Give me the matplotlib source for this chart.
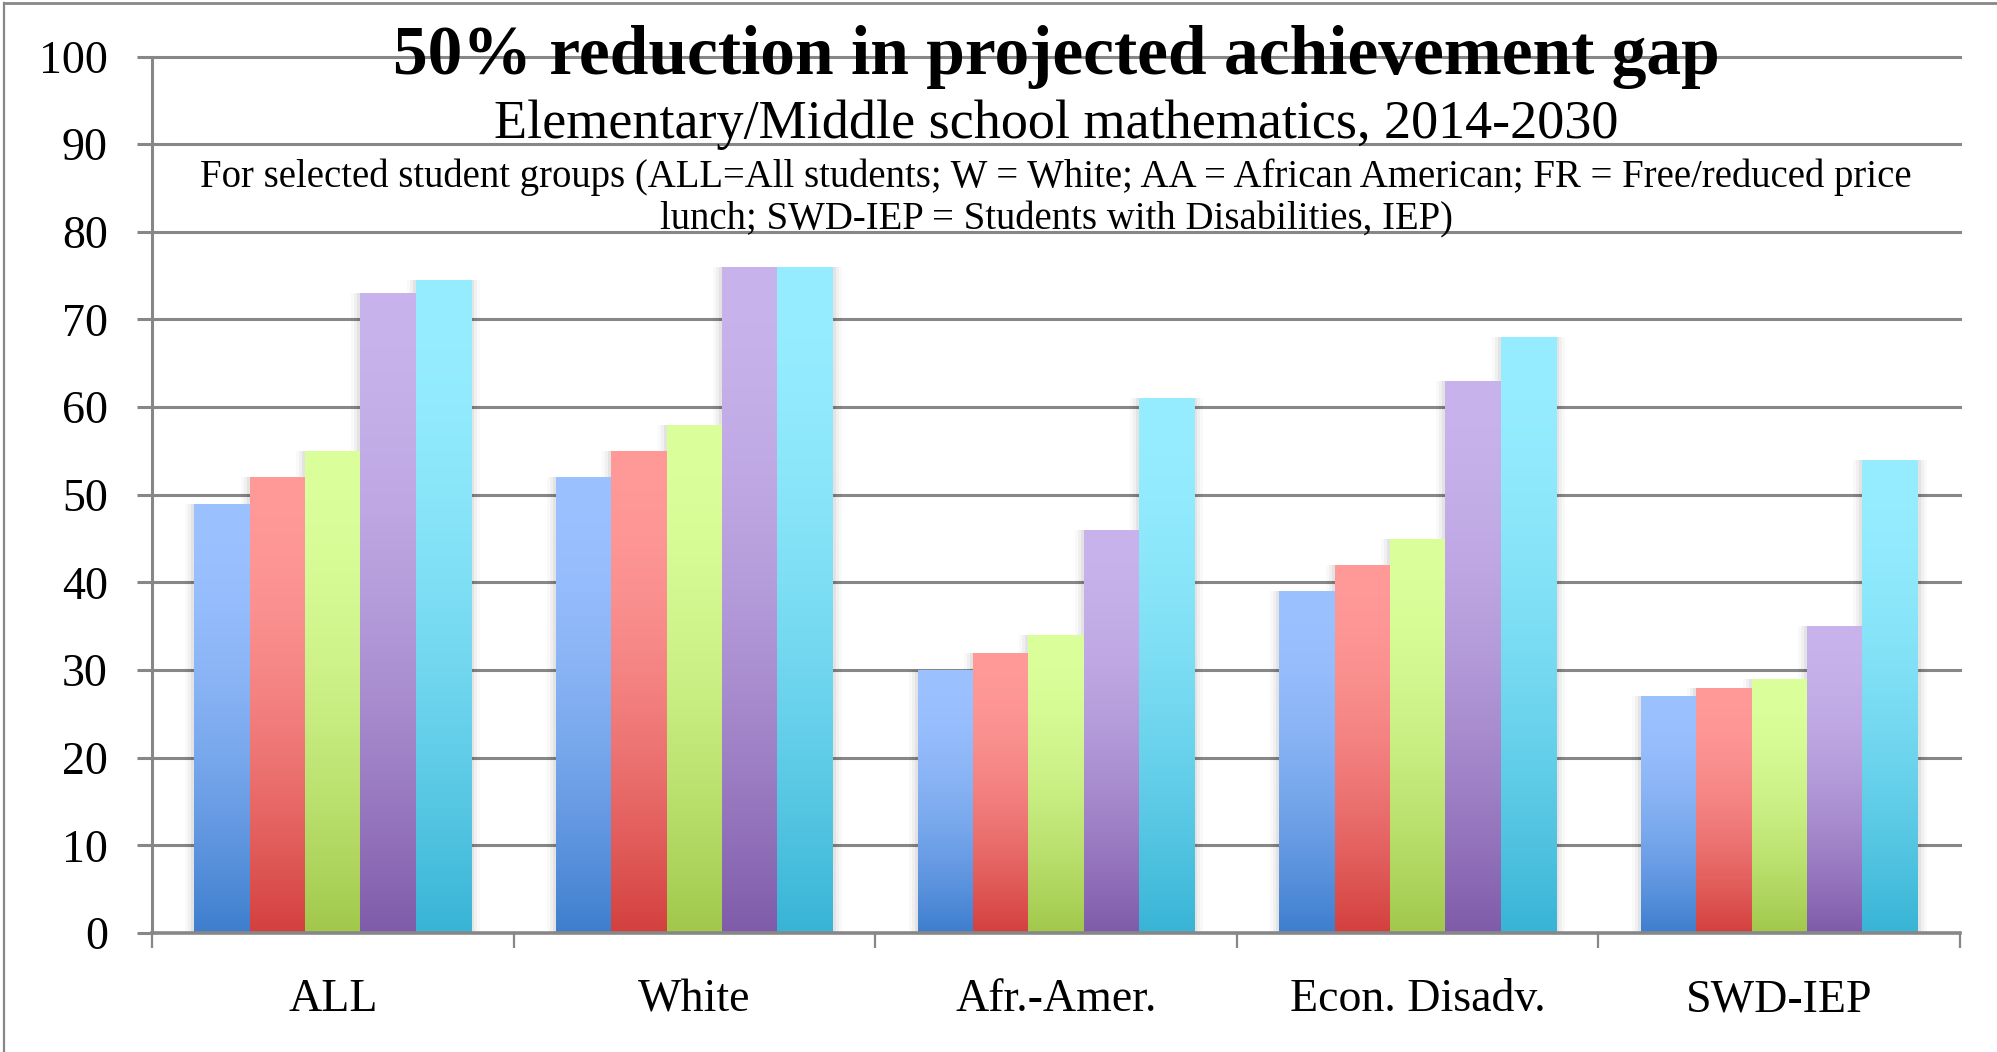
import numpy as np
import matplotlib
matplotlib.use("Agg")
import matplotlib.pyplot as plt
from matplotlib.colors import to_rgb
from matplotlib.patches import Rectangle
from matplotlib.lines import Line2D
from matplotlib.transforms import blended_transform_factory


GROUPS = ["ALL", "White", "Afr.-Amer.", "Econ. Disadv.", "SWD-IEP"]

# one list per projection year, values per student group
SERIES_1 = [49, 52, 30, 39, 27]
SERIES_2 = [52, 55, 32, 42, 28]
SERIES_3 = [55, 58, 34, 45, 29]
SERIES_4 = [73, 76, 46, 63, 35]
SERIES_5 = [74.5, 76, 61, 68, 54]

Y_TICKS = list(range(0, 101, 10))

TITLE = "50% reduction in projected achievement gap"
SUBTITLE = "Elementary/Middle school mathematics, 2014-2030"
NOTE_LINES = [
    "For selected student groups (ALL=All students; W = White; AA = African American; "
    "FR = Free/reduced price",
    "lunch; SWD-IEP = Students with Disabilities, IEP)",
]

# light top -> dark bottom gradient per series
TOP_COLORS = ["#9CC1FF", "#FF9A99", "#DBFF9B", "#C8B3EC", "#96EDFF"]
BOTTOM_COLORS = ["#3E7ECE", "#D3403E", "#A1C84B", "#7F5BA9", "#38B4D6"]

GRID = "#878787"

plt.rcParams["font.family"] = ["Liberation Serif", "DejaVu Serif"]

W, H = 1997, 1052


def _gradient(top, bottom, n=256, power=1.8):
    t = np.linspace(0, 1, n) ** power
    c0 = np.array(to_rgb(top))
    c1 = np.array(to_rgb(bottom))
    return (c0[None, :] + (c1 - c0)[None, :] * t[:, None])[:, None, :]


fig = plt.figure(figsize=(W / 100, H / 100), dpi=100)
ax = fig.add_axes([152 / W, 1 - 933 / H, (1960 - 152) / W, (933 - 56.5) / H])

series = [SERIES_1, SERIES_2, SERIES_3, SERIES_4, SERIES_5]
x = np.arange(len(GROUPS))
width = 0.1532
px_x = 1.0 / 361.6  # data units per pixel along x

for i, vals in enumerate(series):
    offs = x + (i - 2) * width
    bars = ax.bar(offs, vals, width=width, color="none", linewidth=0, zorder=3)
    grad = _gradient(TOP_COLORS[i], BOTTOM_COLORS[i])
    for bar in bars:
        x0 = bar.get_x()
        h = bar.get_height()
        # soft shadow around each bar
        for g, a in [(9, 0.025), (6, 0.035), (3, 0.05)]:
            ax.add_patch(Rectangle((x0 - g * px_x, 0), width + 2 * g * px_x, h,
                                   color="black", alpha=a, linewidth=0, zorder=2))
        img = ax.imshow(grad, extent=[x0, x0 + width, 0, h], aspect="auto",
                        origin="upper", interpolation="bilinear", zorder=3)
        img.set_clip_path(bar)

ax.set_xlim(-0.5, len(GROUPS) - 0.5)
ax.set_ylim(0, 100)
ax.set_aspect("auto")

for yv in Y_TICKS[1:]:
    ax.axhline(yv, color=GRID, linewidth=2.2, zorder=1, clip_on=False)

ax.set_yticks(Y_TICKS)
ax.set_yticklabels([str(v) for v in Y_TICKS], fontsize=33)
ax.tick_params(axis="y", direction="out", length=10.8, width=2.2, color=GRID, pad=21)

ax.set_xticks(np.arange(-0.5, len(GROUPS), 1.0))
ax.set_xticklabels([])
ax.tick_params(axis="x", direction="out", length=10.8, width=1.6, color=GRID)

for side in ["top", "right"]:
    ax.spines[side].set_visible(False)
ax.spines["left"].set_color(GRID)
ax.spines["left"].set_linewidth(2.2)
ax.spines["bottom"].set_color(GRID)
ax.spines["bottom"].set_linewidth(2.6)
ax.spines["bottom"].set_zorder(4)

trans = blended_transform_factory(ax.transData, fig.transFigure)
for xi, label in zip(x, GROUPS):
    ax.text(xi, 1 - 1011 / H, label, transform=trans, ha="center",
            va="baseline", fontsize=33)

cx = (152 + 1960) / 2 / W
fig.text(cx, 1 - 74 / H, TITLE, ha="center", va="baseline", fontsize=50,
         fontweight="bold")
fig.text(cx, 1 - 137.5 / H, SUBTITLE, ha="center", va="baseline", fontsize=39)
for line, base in zip(NOTE_LINES, [187, 229]):
    fig.text(cx, 1 - base / H, line, ha="center", va="baseline", fontsize=27.9)

# chart border (left and top edges)
fig.add_artist(Line2D([4 / W, 4 / W], [0, 1 - 3 / H], color=GRID, linewidth=1.6))
fig.add_artist(Line2D([4 / W, 1], [1 - 3 / H, 1 - 3 / H], color=GRID, linewidth=2.0))

plt.savefig("out.png", dpi=100)
plt.close()
